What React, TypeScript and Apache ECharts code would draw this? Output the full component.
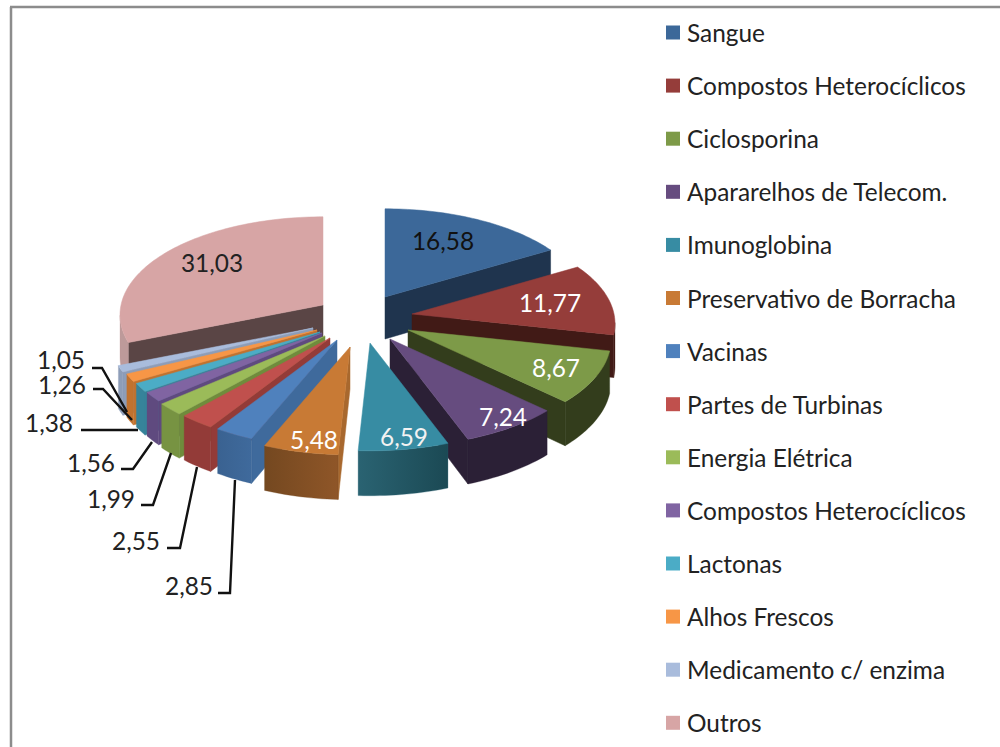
import React, { useEffect, useRef } from "react";
import * as echarts from "echarts";

const categories = [
  "Sangue", "Compostos Heterocíclicos", "Ciclosporina", "Apararelhos de Telecom.",
  "Imunoglobina", "Preservativo de Borracha", "Vacinas", "Partes de Turbinas",
  "Energia Elétrica", "Compostos Heterocíclicos", "Lactonas", "Alhos Frescos",
  "Medicamento c/ enzima", "Outros",
];
const values = [16.58, 11.77, 8.67, 7.24, 6.59, 5.48, 2.85, 2.55, 1.99, 1.56, 1.38, 1.26, 1.05, 31.03];
const valueLabels = ["16,58", "11,77", "8,67", "7,24", "6,59", "5,48", "2,85", "2,55", "1,99", "1,56", "1,38", "1,26", "1,05", "31,03"];

const topColors = ["#3c6899", "#953d3a", "#7d9a48", "#664c7f", "#378ca3", "#c87a35", "#4f81bd", "#c0504d", "#9bbb59", "#8064a2", "#4bacc6", "#f79646", "#a9bcdc", "#d7a5a5"];
const legendColors = ["#3c6899", "#953d3a", "#7d9a48", "#664c7f", "#378ca3", "#c87a35", "#4f81bd", "#c0504d", "#9bbb59", "#8064a2", "#4bacc6", "#f79646", "#a9bcdc", "#d7a5a5"];
const edgeColors = ["#1f344e", "#411a16", "#333d1c", "#2b2036", "#1c4a57", "#a8682e", "#3f6a9c", "#933b38", "#6f8c3c", "#5f4a7f", "#36839a", "#c1722f", "#8d9db8", "#5a4545"];
const rimColors = [
  ["#1f344e", "#1f344e"], ["#411a16", "#411a16"], ["#333d1c", "#333d1c"], ["#2b2036", "#2b2036"],
  ["#2a6372", "#1b4954"], ["#744820", "#8f5628"], ["#3a6291", "#3f6a9c"], ["#933b38", "#933b38"],
  ["#779342", "#779342"], ["#5f4a7f", "#5f4a7f"], ["#36839a", "#36839a"], ["#c1722f", "#c1722f"],
  ["#8d9db8", "#8d9db8"], ["#bd9a9a", "#bd9a9a"],
];
// Explosion of each slice from the pie's centre, [right, down].
const explode = [[40, -25], [67, -8], [63, 8], [45, 17], [25, 21], [5, 25], [-8, 18], [-15, 16], [-20, 14], [-23, 11], [-25, 10], [-28, 8], [-32, 6], [-22, -17]];
// Painter's order, far to near.
const paintRank = [1, 2, 3, 4, 5, 13, 12, 11, 10, 9, 8, 7, 6, 0];
const labelSpots = [[443, 240], [550, 302], [556, 367], [503, 416], [404, 436], [314, 439], null, null, null, null, null, null, null, [212, 262]];
const labelFills = ["#111", "#fff", "#fff", "#fff", "#f2f2f2", "#fff", "", "", "", "", "", "", "", "#222"];
const leaders = [null, null, null, null, null, null,
  { text: [213, 585], path: [[218, 593], [230, 593], [235, 480]] },
  { text: [160, 540], path: [[167, 548], [180, 548], [197, 467]] },
  { text: [135, 498], path: [[141, 505], [153, 505], [171, 453]] },
  { text: [115, 462], path: [[121, 469], [133, 469], [152, 442]] },
  { text: [73, 422], path: [[81, 430], [138, 430]] },
  { text: [86, 384], path: [[93, 389], [103, 389], [132, 420]] },
  { text: [85, 359], path: [[92, 368], [102, 368], [127, 412]] },
  null,
];

const FONT_FAMILY = "Lato";
const FONT_SIZE = 24.4;
const CX = 345, CY = 322, RX = 202, RY = 98, PX = 0.1, PY = 0.1, H = 42;
const total = values.reduce((a, b) => a + b, 0);
const rad = (v: number) => (v / total) * Math.PI * 2;

function rim(ax: number, ay: number, t: number) {
  const c = Math.cos(t);
  return [ax + Math.sin(t) * RX * (1 - PX * c), ay - c * RY * (1 - PY * c)];
}
const drop = (p: number[], t: number | null) => [p[0], p[1] + H * (t === null ? 1 : 1 - 0.07 * Math.cos(t))];

function renderSlice(params: any, api: any) {
  const i = params.dataIndex;
  const before = values.slice(0, i).reduce((a, b) => a + b, 0);
  const t0 = rad(before), t1 = t0 + rad(api.value(0));
  const ax = CX + explode[i][0], ay = CY + explode[i][1];
  const apex = [ax, ay];
  const n = Math.max(4, Math.round((t1 - t0) * 40));
  const ts = Array.from({ length: n + 1 }, (_, k) => t0 + ((t1 - t0) * k) / n);
  const arc = ts.map((t) => rim(ax, ay, t));
  const z = paintRank[i] * 10;
  const children: any[] = [];

  const edgeWall = (a: number[], ta: number | null, b: number[], tb: number | null) => ({
    type: "polygon", z2: z,
    shape: { points: [a, b, drop(b, tb), drop(a, ta)] },
    style: { fill: edgeColors[i], stroke: edgeColors[i], lineWidth: 0.5 },
  });
  if (arc[0][0] < ax) children.push(edgeWall(apex, null, arc[0], t0));
  if (arc[n][0] > ax) children.push(edgeWall(arc[n], t1, apex, null));

  const run: number[] = [];
  for (let k = 0; k <= n; k++) {
    const goesLeft = (k < n && arc[k + 1][0] < arc[k][0]) || (k > 0 && arc[k][0] < arc[k - 1][0]);
    if (goesLeft) run.push(k);
  }
  if (run.length > 1) {
    const upper = run.map((k) => arc[k]);
    const lower = run.map((k) => drop(arc[k], ts[k])).reverse();
    children.push({
      type: "polygon", z2: z + 1,
      shape: { points: [...upper, ...lower] },
      style: {
        fill: new echarts.graphic.LinearGradient(0, 0, 1, 0, [
          { offset: 0, color: rimColors[i][0] },
          { offset: 1, color: rimColors[i][1] },
        ]),
        stroke: rimColors[i][0], lineWidth: 0.3,
      },
    });
  }
  children.push({
    type: "polygon", z2: z + 2,
    shape: { points: [apex, ...arc] },
    style: { fill: topColors[i], stroke: topColors[i], lineWidth: 0.5 },
  });
  const font = `${FONT_SIZE}px ${FONT_FAMILY}`;
  if (labelSpots[i]) {
    children.push({
      type: "text", z2: 500,
      style: { text: valueLabels[i], x: labelSpots[i]![0], y: labelSpots[i]![1], fill: labelFills[i], font, align: "center", verticalAlign: "middle" },
    });
  }
  const lead = leaders[i];
  if (lead) {
    children.push({
      type: "text", z2: 500,
      style: { text: valueLabels[i], x: lead.text[0], y: lead.text[1], fill: "#222", font, align: "right", verticalAlign: "middle" },
    });
    children.push({
      type: "polyline", z2: 490,
      shape: { points: lead.path },
      style: { stroke: "#111", lineWidth: 2.4, fill: "none" },
    });
  }
  return { type: "group", children };
}

const LEGEND_TOP = 32.5, LEGEND_STEP = 53.1;

export default function App() {
  const ref = useRef<HTMLDivElement>(null);
  useEffect(() => {
    document.body.style.margin = "0";
    const chart = echarts.init(ref.current!, undefined, { renderer: "svg" });
    const legend: any[] = [];
    categories.forEach((name, i) => {
      const y = LEGEND_TOP + i * LEGEND_STEP;
      legend.push({ type: "rect", shape: { x: 666, y: y - 7, width: 14, height: 14 }, style: { fill: legendColors[i] } });
      legend.push({
        type: "text",
        style: { text: name, x: 687, y, fill: "#222", font: `${FONT_SIZE}px ${FONT_FAMILY}`, align: "left", verticalAlign: "middle" },
      });
    });
    chart.setOption({
      animation: false,
      backgroundColor: "#fff",
      graphic: [
        { type: "line", shape: { x1: 11, y1: 7, x2: 11, y2: 747 }, style: { stroke: "#8c8c8c", lineWidth: 2.5 } },
        { type: "line", shape: { x1: 10, y1: 7, x2: 1000, y2: 7 }, style: { stroke: "#8c8c8c", lineWidth: 2.5 } },
        ...legend,
      ],
      series: [{
        type: "custom",
        coordinateSystem: "none",
        renderItem: renderSlice,
        data: values.map((v, i) => ({ value: [v], name: categories[i] })),
        silent: true,
      }],
    });
    return () => chart.dispose();
  }, []);
  return <div ref={ref} style={{ position: "absolute", left: 0, top: 0, width: 1000, height: 747 }} />;
}
